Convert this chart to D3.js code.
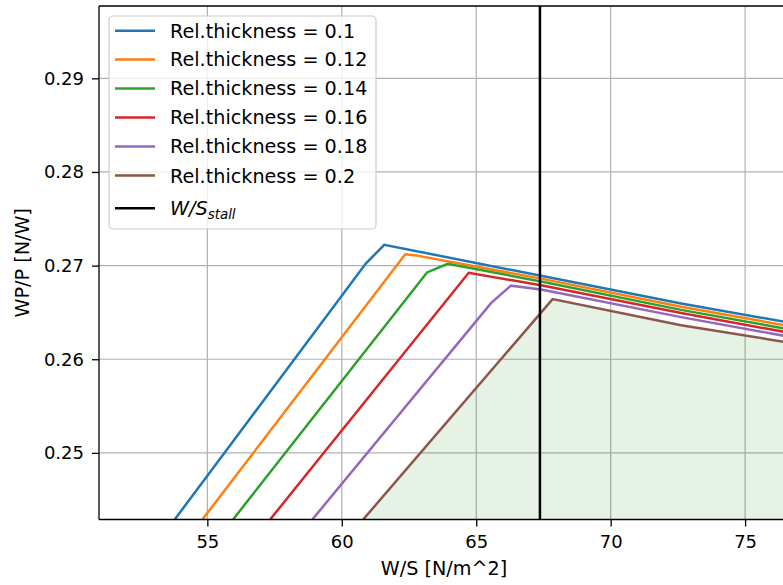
<!DOCTYPE html>
<html>
<head>
<meta charset="utf-8">
<script src="https://cdn.jsdelivr.net/npm/d3@7"></script>
<style>
  html, body { margin: 0; padding: 0; background: #fff; }
  svg { display: block; }
  text { font-family: "DejaVu Sans", sans-serif; fill: #000; }
</style>
</head>
<body>
<svg id="chart" width="783" height="585"></svg>
<script>
// ---- data ----
const seriesLabels = ["Rel.thickness = 0.1", "Rel.thickness = 0.12", "Rel.thickness = 0.14",
                      "Rel.thickness = 0.16", "Rel.thickness = 0.18", "Rel.thickness = 0.2"];
const ws_t010 = [53.79, 60.90, 61.58, 67.41, 72.62, 76.45];
const wp_t010 = [0.2429, 0.27024, 0.27222, 0.26891, 0.26596, 0.26400];
const ws_t012 = [54.82, 62.36, 62.76, 67.41, 72.62, 76.45];
const wp_t012 = [0.2429, 0.27120, 0.27109, 0.26861, 0.26561, 0.26364];
const ws_t014 = [55.96, 63.17, 63.94, 67.41, 72.62, 76.45];
const wp_t014 = [0.2429, 0.26927, 0.27019, 0.26831, 0.26527, 0.26329];
const ws_t016 = [57.34, 64.72, 67.41, 72.62, 76.45];
const wp_t016 = [0.2429, 0.26923, 0.26790, 0.26493, 0.26293];
const ws_t018 = [58.91, 65.55, 66.29, 67.41, 72.62, 76.45];
const wp_t018 = [0.2429, 0.26599, 0.26786, 0.26744, 0.26450, 0.26250];
const ws_t020 = [60.80, 67.84, 72.62, 76.45];
const wp_t020 = [0.2429, 0.26642, 0.26364, 0.26186];
const wsStall = 67.37;
const stallLabel = ["W/S", "stall"];
const xTicks = [55, 60, 65, 70, 75];
const yTicks = [0.25, 0.26, 0.27, 0.28, 0.29];
const xLabel = "W/S [N/m^2]";
const yLabel = "WP/P [N/W]";

// ---- styles ----
const colors = ["#1f77b4", "#ff7f0e", "#2ca02c", "#d62728", "#9467bd", "#8c564b"];
const FS = 18;     // tick labels
const FSL = 19.2;  // legend and axis labels

const svg = d3.select("#chart");
const L = 99, R = 783, T = 6, B = 519.5;
const x = d3.scaleLinear().domain([50.97, 76.41]).range([L, R]);
const y = d3.scaleLinear().domain([0.242885, 0.297724]).range([B, T]);

const wsArrays = [ws_t010, ws_t012, ws_t014, ws_t016, ws_t018, ws_t020];
const wpArrays = [wp_t010, wp_t012, wp_t014, wp_t016, wp_t018, wp_t020];
const series = wsArrays.map((ws, i) => ws.map((w, j) => [w, wpArrays[i][j]]));

svg.append("defs").append("clipPath").attr("id", "clip")
  .append("rect").attr("x", L).attr("y", T).attr("width", R - L + 10).attr("height", B - T);

// grid
const grid = svg.append("g");
grid.selectAll("line.gx").data(xTicks).join("line")
  .attr("x1", d => x(d)).attr("x2", d => x(d)).attr("y1", T).attr("y2", B)
  .attr("stroke", "#b0b0b0").attr("stroke-width", 1.2);
grid.selectAll("line.gy").data(yTicks).join("line")
  .attr("y1", d => y(d)).attr("y2", d => y(d)).attr("x1", L).attr("x2", R + 10)
  .attr("stroke", "#b0b0b0").attr("stroke-width", 1.2);

const plot = svg.append("g").attr("clip-path", "url(#clip)");

// fill under the last series
const area = d3.area().x(d => x(d[0])).y0(y.range()[0] + 2).y1(d => y(d[1]));
plot.append("path").datum(series[5]).attr("d", area)
  .attr("fill", "green").attr("fill-opacity", 0.1);

const line = d3.line().x(d => x(d[0])).y(d => y(d[1]));
series.forEach((s, i) => {
  plot.append("path").datum(s).attr("d", line)
    .attr("fill", "none").attr("stroke", colors[i]).attr("stroke-width", 2.5)
    .attr("stroke-linejoin", "miter");
});

// stall line
plot.append("line").attr("x1", x(wsStall)).attr("x2", x(wsStall))
  .attr("y1", T).attr("y2", B).attr("stroke", "#000").attr("stroke-width", 2.5);

// axes
const xAxis = svg.append("g").attr("transform", `translate(0,${B})`)
  .call(d3.axisBottom(x).tickValues(xTicks).tickFormat(d3.format("d")).tickSize(7).tickPadding(9));
const yAxis = svg.append("g").attr("transform", `translate(${L},0)`)
  .call(d3.axisLeft(y).tickValues(yTicks).tickFormat(d3.format(".2f")).tickSize(7).tickPadding(8));
[xAxis, yAxis].forEach(a => {
  a.selectAll("path.domain").attr("stroke", "#000").attr("stroke-width", 1.3);
  a.selectAll(".tick line").attr("stroke", "#000").attr("stroke-width", 1.3);
  a.selectAll(".tick text").attr("font-size", FS).attr("font-family", "DejaVu Sans").attr("fill", "#000");
});
yAxis.select("path.domain").attr("d", `M-0,${B}V${T}`);
xAxis.select("path.domain").attr("d", `M${L},0H${R + 10}`);
// top spine
svg.append("line").attr("x1", L).attr("x2", R + 10).attr("y1", T).attr("y2", T)
  .attr("stroke", "#000").attr("stroke-width", 1.3);

// axis labels
svg.append("text").attr("x", 444).attr("y", 575).attr("text-anchor", "middle")
  .attr("font-size", FSL).text(xLabel);
svg.append("text").attr("transform", `translate(29,${(T + B) / 2}) rotate(-90)`)
  .attr("text-anchor", "middle").attr("font-size", FSL).text(yLabel);

// legend
const lg = svg.append("g");
lg.append("rect").attr("x", 109).attr("y", 16).attr("width", 267).attr("height", 213)
  .attr("rx", 4).attr("fill", "#fff").attr("fill-opacity", 0.8)
  .attr("stroke", "#cccccc").attr("stroke-width", 1.2);
const rowY = [30.7, 59.5, 88.4, 117.4, 146.5, 175.6];
seriesLabels.forEach((lab, i) => {
  lg.append("line").attr("x1", 115).attr("x2", 155).attr("y1", rowY[i]).attr("y2", rowY[i])
    .attr("stroke", colors[i]).attr("stroke-width", 2.5);
  lg.append("text").attr("x", 170).attr("y", rowY[i]).attr("dy", "0.36em")
    .attr("font-size", FSL).text(lab);
});
const stallY = 208.3;
lg.append("line").attr("x1", 115).attr("x2", 155).attr("y1", stallY).attr("y2", stallY)
  .attr("stroke", "#000").attr("stroke-width", 2.5);
const st = lg.append("text").attr("x", 170).attr("y", stallY).attr("dy", "0.36em")
  .attr("font-size", FSL).attr("font-style", "italic");
st.append("tspan").text(stallLabel[0]);
st.append("tspan").attr("font-size", FSL * 0.7).attr("dy", 4).text(stallLabel[1]);
</script>
</body>
</html>
